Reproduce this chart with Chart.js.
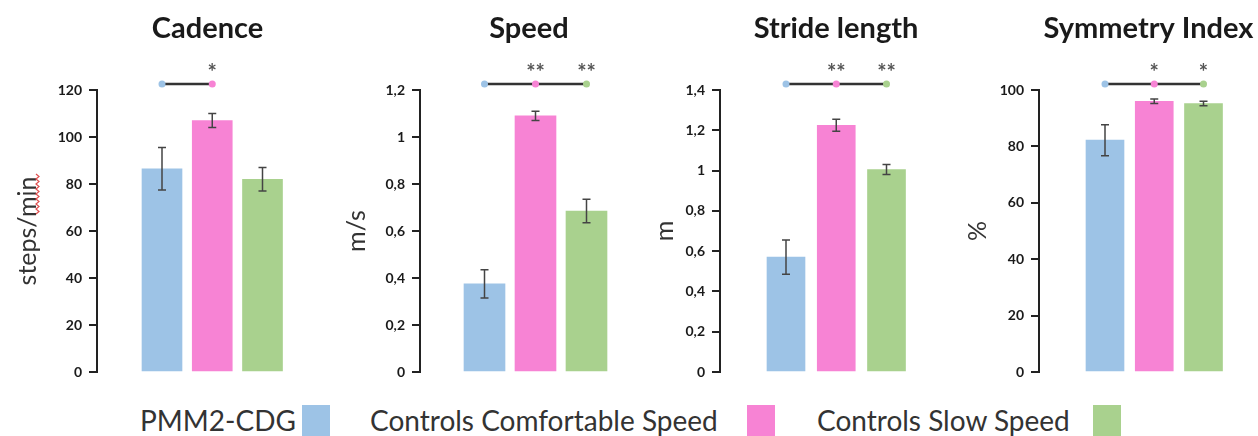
<!DOCTYPE html>
<html>
<head>
<meta charset="utf-8">
<title>Gait parameters</title>
<script src="https://cdn.jsdelivr.net/npm/chart.js@4.4.0/dist/chart.umd.min.js"></script>
<style>
  html, body { margin: 0; padding: 0; background: #fff; }
  body { width: 1258px; height: 436px; position: relative; overflow: hidden; font-family: Lato, 'Open Sans', sans-serif; }
  canvas { position: absolute; top: 0; }
  .legend-label { position: absolute; top: 406px; font-size: 28px; line-height: 28px; color: #333; white-space: nowrap; }
  .legend-swatch { position: absolute; top: 405px; width: 28px; height: 40px; }
</style>
</head>
<body>
<div id="legend"></div>
<script>
// groups shared by every panel
const groups = ['PMM2-CDG', 'Controls Comfortable Speed', 'Controls Slow Speed'];
const groupColors = ['#9DC3E6', '#F783D4', '#A9D18E'];

// Cadence (steps/min)
const cadenceMean = [86.5, 107, 82];
const cadenceError = [9, 3, 5];
const cadenceStars = ['', '*', ''];
const cadenceTicks = [0, 20, 40, 60, 80, 100, 120];

// Speed (m/s)
const speedMean = [0.375, 1.09, 0.685];
const speedError = [0.06, 0.02, 0.05];
const speedStars = ['', '**', '**'];
const speedTicks = [0, 0.2, 0.4, 0.6, 0.8, 1, 1.2];

// Stride length (m)
const strideMean = [0.57, 1.225, 1.005];
const strideError = [0.085, 0.03, 0.025];
const strideStars = ['', '**', '**'];
const strideTicks = [0, 0.2, 0.4, 0.6, 0.8, 1, 1.2, 1.4];

// Symmetry index (%)
const symmetryMean = [82.2, 96, 95.2];
const symmetryError = [5.5, 0.8, 0.8];
const symmetryStars = ['', '*', '*'];
const symmetryTicks = [0, 20, 40, 60, 80, 100];

// layout of each panel on the page (pixels)
const panels = [
  { id: 'cadence', title: 'Cadence', unit: 'steps/min', mean: cadenceMean, err: cadenceError, stars: cadenceStars, ticks: cadenceTicks,
    left: 0, width: 318, axisX: 97, firstBar: 162, spacing: 50.25, barWidth: 40, unitPad: 13, squiggle: true },
  { id: 'speed', title: 'Speed', unit: 'm/s', mean: speedMean, err: speedError, stars: speedStars, ticks: speedTicks,
    left: 318, width: 320, axisX: 420, firstBar: 484.5, spacing: 51, barWidth: 41, unitPad: 24 },
  { id: 'stride', title: 'Stride length', unit: 'm', mean: strideMean, err: strideError, stars: strideStars, ticks: strideTicks,
    left: 638, width: 314, axisX: 720, firstBar: 786, spacing: 50.25, barWidth: 38, unitPad: 12 },
  { id: 'symmetry', title: 'Symmetry Index', unit: '%', mean: symmetryMean, err: symmetryError, stars: symmetryStars, ticks: symmetryTicks,
    left: 952, width: 306, axisX: 1039, firstBar: 1105, spacing: 49.25, barWidth: 38, unitPad: 11 }
];

const legendPos = [[140, 302], [370, 747], [817, 1093]];

const CANVAS_H = 390;
const PLOT_TOP = 90;
const PLOT_BOTTOM = 372;
const TITLE_SIZE = 29;

const formatTick = v => String(+v.toFixed(1)).replace('.', ',');

// error bars, significance bracket and stars
const extrasPlugin = {
  id: 'extras',
  afterDatasetsDraw(chart, args, opts) {
    const { ctx, chartArea } = chart;
    const meta = chart.getDatasetMeta(0);
    const y = chart.scales.y;

    ctx.save();
    // error bars
    ctx.strokeStyle = '#444';
    ctx.lineWidth = 1.5;
    opts.mean.forEach((m, i) => {
      const x = meta.data[i].x;
      const top = y.getPixelForValue(m + opts.err[i]);
      const bot = y.getPixelForValue(m - opts.err[i]);
      ctx.beginPath();
      ctx.moveTo(x, top); ctx.lineTo(x, bot);
      ctx.moveTo(x - 4, top); ctx.lineTo(x + 4, top);
      ctx.moveTo(x - 4, bot); ctx.lineTo(x + 4, bot);
      ctx.stroke();
    });

    // significance bracket
    let last = 0;
    opts.stars.forEach((s, i) => { if (s) last = i; });
    const lineY = chartArea.top - 6;
    ctx.strokeStyle = '#333';
    ctx.lineWidth = 2.5;
    ctx.beginPath();
    ctx.moveTo(meta.data[0].x, lineY);
    ctx.lineTo(meta.data[last].x, lineY);
    ctx.stroke();
    for (let i = 0; i <= last; i++) {
      ctx.fillStyle = groupColors[i];
      ctx.beginPath();
      ctx.arc(meta.data[i].x, lineY, 3.5, 0, Math.PI * 2);
      ctx.fill();
    }
    ctx.fillStyle = '#555';
    ctx.font = 'bold 22px Lato';
    ctx.textAlign = 'center';
    ctx.textBaseline = 'alphabetic';
    opts.stars.forEach((s, i) => {
      if (s) ctx.fillText(s, meta.data[i].x, lineY - 4);
    });

    // red spell-check squiggle under "min"
    if (opts.squiggle) {
      ctx.strokeStyle = '#e05050';
      ctx.lineWidth = 1.2;
      ctx.beginPath();
      for (let yy = 174, k = 0; yy <= 214; yy += 2.5, k++) {
        const xx = 37 + (k % 2 ? 2 : -1);
        if (k === 0) ctx.moveTo(xx, yy); else ctx.lineTo(xx, yy);
      }
      ctx.stroke();
    }
    ctx.restore();
  }
};

panels.forEach(p => {
  const canvas = document.createElement('canvas');
  canvas.id = p.id;
  canvas.width = p.width;
  canvas.height = CANVAS_H;
  canvas.style.left = p.left + 'px';
  document.body.appendChild(canvas);

  const lastBar = p.firstBar + 2 * p.spacing;
  const xMin = -(p.firstBar - p.axisX) / p.spacing;
  const xMax = 2 + (p.left + p.width - lastBar) / p.spacing;
  const titleTop = 28.5 - TITLE_SIZE * 0.6;

  new Chart(canvas.getContext('2d'), {
    type: 'bar',
    data: {
      datasets: [{
        data: p.mean.map((v, i) => ({ x: i, y: v })),
        backgroundColor: groupColors,
        borderWidth: 0,
        barThickness: p.barWidth
      }]
    },
    options: {
      responsive: false,
      animation: false,
      layout: { padding: { top: 0, left: 0, right: 0, bottom: CANVAS_H - PLOT_BOTTOM } },
      plugins: {
        legend: { display: false },
        tooltip: { enabled: false },
        title: {
          display: true,
          text: p.title,
          fullSize: false,
          color: '#1a1a1a',
          font: { family: 'Lato', size: TITLE_SIZE, weight: 'bold' },
          padding: { top: titleTop, bottom: PLOT_TOP - titleTop - TITLE_SIZE * 1.2 }
        },
        extras: { mean: p.mean, err: p.err, stars: p.stars, squiggle: !!p.squiggle }
      },
      scales: {
        x: {
          type: 'linear',
          min: xMin,
          max: xMax,
          offset: false,
          display: false
        },
        y: {
          min: 0,
          max: p.ticks[p.ticks.length - 1],
          afterBuildTicks: s => { s.ticks = p.ticks.map(v => ({ value: v })); },
          afterFit: s => { s.width = p.axisX - p.left; },
          border: { display: true, color: '#222', width: 2 },
          grid: { drawOnChartArea: false, drawTicks: true, tickLength: 8, lineWidth: 2, color: '#222' },
          ticks: {
            autoSkip: false,
            padding: 7,
            color: '#1a1a1a',
            font: { family: 'Lato', size: 14, weight: 'bold' },
            callback: v => formatTick(v)
          },
          title: {
            display: true,
            text: p.unit,
            color: '#333',
            font: { family: 'Lato', size: 25 },
            padding: { top: p.unitPad, bottom: 0 }
          }
        }
      }
    },
    plugins: [extrasPlugin]
  });
});

// legend: label first, colour swatch after it
const legend = document.getElementById('legend');
groups.forEach((g, i) => {
  const label = document.createElement('span');
  label.className = 'legend-label';
  label.style.left = legendPos[i][0] + 'px';
  label.textContent = g;
  legend.appendChild(label);
  const swatch = document.createElement('span');
  swatch.className = 'legend-swatch';
  swatch.style.left = legendPos[i][1] + 'px';
  swatch.style.background = groupColors[i];
  legend.appendChild(swatch);
});
</script>
</body>
</html>
